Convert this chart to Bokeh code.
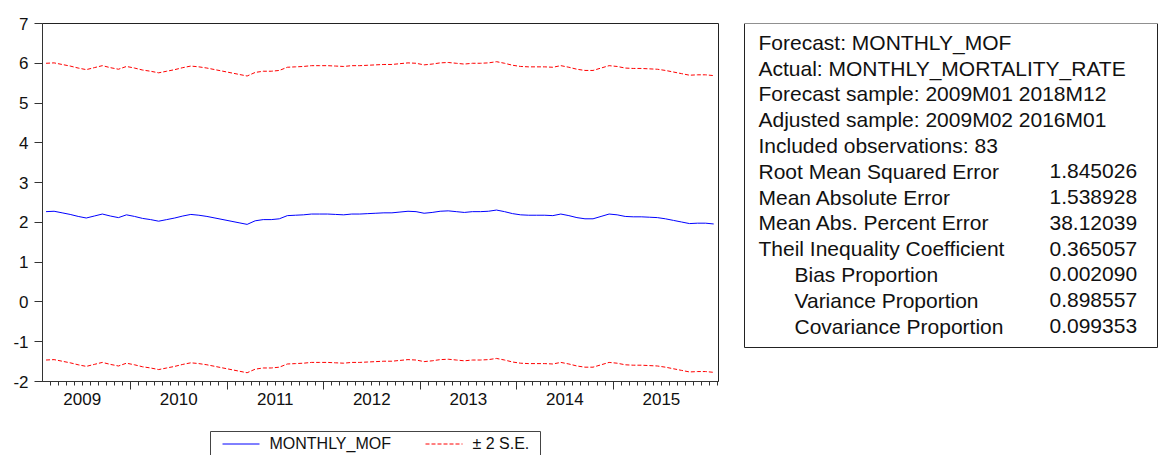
from bokeh.plotting import figure
from bokeh.models import Range1d, FixedTicker, LinearAxis, CustomLabelingPolicy
from bokeh.layouts import row, column
from bokeh.embed import file_html
from bokeh.resources import INLINE
from bokeh.core.properties import value

FONT = "Liberation Sans"

# ---------------- data (monthly, 2009M02 .. 2016M01) ----------------
years = ["2009", "2010", "2011", "2012", "2013", "2014", "2015"]

forecast = [2.27, 2.28, 2.24, 2.20, 2.15, 2.11, 2.16, 2.21, 2.16, 2.12,
            2.19, 2.15, 2.10, 2.07, 2.03, 2.07, 2.11, 2.16, 2.20, 2.18,
            2.15, 2.11, 2.07, 2.03, 1.99, 1.95, 2.04, 2.07, 2.07, 2.09,
            2.17, 2.18, 2.19, 2.21, 2.21, 2.21, 2.20, 2.19, 2.21, 2.21,
            2.22, 2.23, 2.24, 2.24, 2.26, 2.28, 2.27, 2.23, 2.25, 2.28,
            2.29, 2.27, 2.25, 2.27, 2.27, 2.28, 2.31, 2.27, 2.22, 2.19,
            2.18, 2.18, 2.18, 2.17, 2.21, 2.17, 2.12, 2.09, 2.09, 2.15,
            2.21, 2.19, 2.15, 2.14, 2.14, 2.13, 2.12, 2.09, 2.05, 2.01,
            1.97, 1.98, 1.98, 1.96]

upper = [6.00, 6.01, 5.97, 5.93, 5.88, 5.84, 5.89, 5.94, 5.89, 5.85,
         5.92, 5.88, 5.83, 5.80, 5.76, 5.80, 5.84, 5.89, 5.93, 5.91,
         5.88, 5.84, 5.80, 5.76, 5.72, 5.68, 5.77, 5.80, 5.80, 5.82,
         5.90, 5.91, 5.92, 5.94, 5.94, 5.94, 5.93, 5.92, 5.94, 5.94,
         5.95, 5.96, 5.97, 5.97, 5.99, 6.01, 6.00, 5.96, 5.98, 6.01,
         6.02, 6.00, 5.98, 6.00, 6.00, 6.01, 6.04, 6.00, 5.95, 5.92,
         5.91, 5.91, 5.91, 5.90, 5.94, 5.90, 5.85, 5.82, 5.82, 5.88,
         5.94, 5.92, 5.88, 5.87, 5.87, 5.86, 5.85, 5.82, 5.78, 5.74,
         5.70, 5.71, 5.71, 5.69]

lower = [-1.46, -1.45, -1.49, -1.53, -1.58, -1.62, -1.57, -1.52, -1.57, -1.61,
         -1.54, -1.58, -1.63, -1.66, -1.70, -1.66, -1.62, -1.57, -1.53, -1.55,
         -1.58, -1.62, -1.66, -1.70, -1.74, -1.78, -1.69, -1.66, -1.66, -1.64,
         -1.56, -1.55, -1.54, -1.52, -1.52, -1.52, -1.53, -1.54, -1.52, -1.52,
         -1.51, -1.50, -1.49, -1.49, -1.47, -1.45, -1.46, -1.50, -1.48, -1.45,
         -1.44, -1.46, -1.48, -1.46, -1.46, -1.45, -1.42, -1.46, -1.51, -1.54,
         -1.55, -1.55, -1.55, -1.56, -1.52, -1.56, -1.61, -1.64, -1.64, -1.58,
         -1.52, -1.54, -1.58, -1.59, -1.59, -1.60, -1.61, -1.64, -1.68, -1.72,
         -1.76, -1.75, -1.75, -1.77]

y_ticks = [-2, -1, 0, 1, 2, 3, 4, 5, 6, 7]
y_tick_labels = ["-2", "-1", "0", "1", "2", "3", "4", "5", "6", "7"]

legend_labels = ["MONTHLY_MOF", "± 2 S.E."]
legend_colors = ["#0000ff", "#ff0000"]
legend_dashes = ["solid", "4 2"]

stat_labels = ["Forecast: MONTHLY_MOF",
               "Actual: MONTHLY_MORTALITY_RATE",
               "Forecast sample: 2009M01 2018M12",
               "Adjusted sample: 2009M02 2016M01",
               "Included observations: 83",
               "Root Mean Squared Error",
               "Mean Absolute Error",
               "Mean Abs. Percent Error",
               "Theil Inequality Coefficient",
               "Bias Proportion",
               "Variance Proportion",
               "Covariance Proportion"]
stat_indent = [0, 0, 0, 0, 0, 0, 0, 0, 0, 1, 1, 1]
stat_values = ["", "", "", "", "", "1.845026", "1.538928", "38.12039",
               "0.365057", "0.002090", "0.898557", "0.099353"]

# ---------------- derived positions ----------------
n = len(forecast)
months = [f"{2009 + (m + 1) // 12}M{(m + 1) % 12 + 1:02d}" for m in range(n)]
x = list(range(n))
year_bounds = [i - 0.5 for i, m in enumerate(months) if m.endswith("M01") and 0 < i < n - 1]
year_centers = [year_bounds[0] - 6] + [b + 6 for b in year_bounds]
month_bounds = [i - 0.5 for i in range(n + 1) if (i - 0.5) not in year_bounds]

W1, W2, H = 730, 430, 455
H_LEG = 27
H1 = H - H_LEG
TOP, FRAME_BOTTOM = 23, 381
LEFT, RIGHT = 42, 718

# ---------------- chart ----------------
p = figure(width=W1, height=H1,
           x_range=Range1d(-0.44, 83.6), y_range=Range1d(-2, 7),
           x_axis_type=None, y_axis_type=None,
           output_backend="svg", toolbar_location=None,
           min_border_left=LEFT, min_border_right=W1 - RIGHT,
           min_border_top=TOP, min_border_bottom=H1 - FRAME_BOTTOM)
p.outline_line_color = "#222222"
p.outline_line_width = 1
p.background_fill_color = "white"
p.border_fill_color = "white"

ya = LinearAxis(ticker=FixedTicker(ticks=y_ticks),
                major_label_overrides={t: s for t, s in zip(y_ticks, y_tick_labels)})
ya.axis_line_color = "#333333"
ya.major_tick_line_color = "#333333"
ya.major_tick_out = 8
ya.major_tick_in = 0
ya.minor_tick_line_color = None
ya.major_label_text_font = FONT
ya.major_label_text_font_size = "17px"
ya.major_label_text_color = "#111111"
ya.major_label_standoff = 6
p.add_layout(ya, "left")

xa1 = LinearAxis(ticker=FixedTicker(ticks=year_bounds, minor_ticks=month_bounds))
xa1.axis_line_color = "#333333"
xa1.major_tick_line_color = "#333333"
xa1.minor_tick_line_color = "#333333"
xa1.major_tick_out = 8
xa1.major_tick_in = 0
xa1.minor_tick_out = 4
xa1.minor_tick_in = 0
xa1.major_label_text_font_size = "0px"
xa1.major_label_standoff = 0
xa1.major_label_policy = CustomLabelingPolicy(code="return []")
p.add_layout(xa1, "below")

xa2 = LinearAxis(ticker=FixedTicker(ticks=year_centers),
                 major_label_overrides={c: y for c, y in zip(year_centers, years)})
xa2.axis_line_color = None
xa2.major_tick_line_color = None
xa2.minor_tick_line_color = None
xa2.major_label_text_font = FONT
xa2.major_label_text_font_size = "17px"
xa2.major_label_text_color = "#111111"
xa2.major_label_standoff = -3
p.add_layout(xa2, "below")

p.line(x, forecast, line_color="#0000ff", line_width=1)
p.line(x, upper, line_color="#ff0000", line_width=1, line_dash="4 2")
p.line(x, lower, line_color="#ff0000", line_width=1, line_dash="4 2")

# ---------------- legend strip (page pixel coordinates) ----------------
lg = figure(width=W1, height=H_LEG,
            x_range=Range1d(LEFT, RIGHT), y_range=Range1d(H, H1),
            x_axis_type=None, y_axis_type=None,
            output_backend="svg", toolbar_location=None,
            min_border_left=LEFT, min_border_right=W1 - RIGHT,
            min_border_top=0, min_border_bottom=0)
lg.outline_line_color = None
lg.background_fill_color = "white"
lg.border_fill_color = "white"

box_left, box_right, box_top = 210, 540, 431
item_glyph_x0 = [222, 425]
glyph_len = 37
text_gap = 10
row_mid = 443
lg.quad(left=[box_left], right=[box_right], top=[box_top], bottom=[box_top + 28],
        fill_color="white", line_color="#444444", line_width=1)
for gx, col, dash in zip(item_glyph_x0, legend_colors, legend_dashes):
    lg.line([gx, gx + glyph_len], [row_mid + 0.5, row_mid + 0.5], line_color=col,
            line_width=1, line_dash=dash)
lg.text(x=[gx + glyph_len + text_gap for gx in item_glyph_x0], y=[row_mid] * 2,
        text=legend_labels, text_font=value(FONT), text_font_size="16px",
        text_color="#111111", text_baseline="middle", text_align="left")

# ---------------- statistics box (page pixel coordinates) ----------------
s = figure(width=W2, height=H,
           x_range=Range1d(W1, W1 + W2), y_range=Range1d(FRAME_BOTTOM, TOP),
           x_axis_type=None, y_axis_type=None,
           output_backend="svg", toolbar_location=None,
           min_border_left=0, min_border_right=0,
           min_border_top=TOP, min_border_bottom=H - FRAME_BOTTOM)
s.outline_line_color = None
s.background_fill_color = "white"
s.border_fill_color = "white"

s.quad(left=[744], right=[1157], top=[23], bottom=[347],
       fill_color=None, line_color="#222222", line_width=1)

row_y = [41.7 + 25.8 * k for k in range(len(stat_labels))]
label_x = [758 + 36 * ind for ind in stat_indent]
s.text(x=label_x, y=row_y, text=stat_labels,
       text_font=value(FONT), text_font_size="21px", text_color="#111111",
       text_baseline="middle", text_align="left")
s.text(x=[1049] * len(stat_values), y=row_y, text=stat_values,
       text_font=value(FONT), text_font_size="21px", text_color="#111111",
       text_baseline="middle", text_align="left")

layout = row(column(p, lg), s)
open("out.html", "w").write(file_html(layout, INLINE))
